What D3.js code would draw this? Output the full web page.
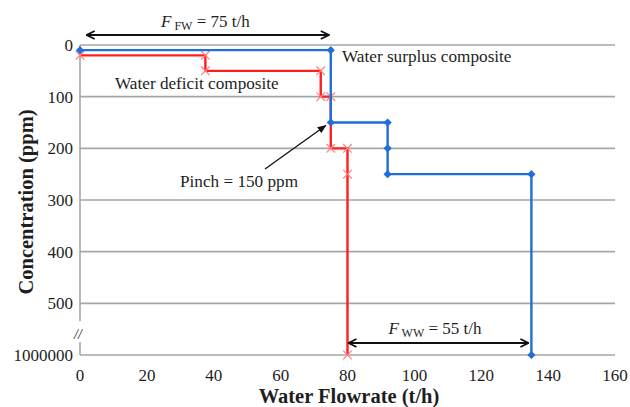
<!DOCTYPE html>
<html>
<head>
<meta charset="utf-8">
<script src="https://cdn.jsdelivr.net/npm/d3@7"></script>
<style>
  html, body { margin: 0; padding: 0; background: #fff; }
  svg { display: block; }
  text { font-family: "Liberation Serif", "Times New Roman", serif; fill: #1e1e1e; }
</style>
</head>
<body>
<svg id="chart" width="630" height="407"></svg>
<script>
// Water deficit composite (demand side): flowrate (t/h) vs concentration (ppm)
const deficitFlow = [0, 37.5, 37.5, 72, 72, 75, 75, 80, 80, 80];
const deficitConc = [20, 20, 50, 50, 100, 100, 200, 200, 250, 1000000];

// Water surplus composite (source side)
const surplusFlow = [0, 75, 75, 92, 92, 92, 135, 135];
const surplusConc = [10, 10, 150, 150, 200, 250, 250, 1000000];

// Axis ticks
const xTicks = [0, 20, 40, 60, 80, 100, 120, 140, 160];
const yTicks = [0, 100, 200, 300, 400, 500, 1000000];

// Annotations
const pinchFlow = 75, pinchConc = 150;
const freshWater = 75, wasteWater = 55;

const svg = d3.select("#chart");
const margin = { left: 80, right: 15, top: 45, bottom: 52 };
const W = 630, H = 407;

const x = d3.scaleLinear().domain([0, 160]).range([margin.left, W - margin.right]);
// the broken y axis puts 1000000 one step below 500
const yLin = d3.scaleLinear().domain([0, 600]).range([margin.top, H - margin.bottom]);
const y = v => yLin(v >= 1000000 ? 600 : v);

const gridColor = "#a6a6a6";
const red = "#ff1f1f";
const blue = "#1f6fd8";

// horizontal gridlines
svg.append("g").selectAll("line").data(yTicks).join("line")
  .attr("x1", x(0)).attr("x2", x(160))
  .attr("y1", d => y(d)).attr("y2", d => y(d))
  .attr("stroke", gridColor).attr("stroke-width", 1.6);

// y axis line with break
const yAxisX = x(0);
svg.append("line").attr("x1", yAxisX).attr("x2", yAxisX)
  .attr("y1", y(0)).attr("y2", y(500) + 18)
  .attr("stroke", gridColor).attr("stroke-width", 1.6);
svg.append("line").attr("x1", yAxisX).attr("x2", yAxisX)
  .attr("y1", y(1000000) - 13).attr("y2", y(1000000))
  .attr("stroke", gridColor).attr("stroke-width", 1.6);
svg.append("text").attr("x", yAxisX - 2).attr("y", y(500) + 36)
  .attr("text-anchor", "middle").attr("font-size", 14).attr("font-style", "italic")
  .attr("fill", "#444").text("//");

// tick labels
svg.append("g").selectAll("text").data(xTicks).join("text")
  .attr("x", d => x(d)).attr("y", 381)
  .attr("text-anchor", "middle").attr("font-size", 17).text(d => d);
svg.append("g").selectAll("text").data(yTicks).join("text")
  .attr("x", yAxisX - 7).attr("y", d => y(d) + 6)
  .attr("text-anchor", "end").attr("font-size", 17).text(d => d);

// axis titles
svg.append("text").attr("x", 349).attr("y", 403)
  .attr("text-anchor", "middle").attr("font-size", 20.5).attr("font-weight", "bold")
  .text("Water Flowrate (t/h)");
svg.append("text").attr("transform", "translate(33,202) rotate(-90)")
  .attr("text-anchor", "middle").attr("font-size", 20.5).attr("font-weight", "bold")
  .text("Concentration (ppm)");

const line = d3.line().x(d => x(d[0])).y(d => y(d[1]));
const deficit = d3.zip(deficitFlow, deficitConc);
const surplus = d3.zip(surplusFlow, surplusConc);

// deficit composite (red, cross markers)
svg.append("path").datum(deficit).attr("d", line)
  .attr("fill", "none").attr("stroke", red).attr("stroke-width", 2.4);
svg.append("g").selectAll("path").data(deficit).join("path")
  .attr("transform", d => `translate(${x(d[0])},${y(d[1])})`)
  .attr("d", d3.symbol(d3.symbolTimes, 50)())
  .attr("fill", "none").attr("stroke", "#ff8080").attr("stroke-width", 1.2);

// surplus composite (blue, diamond markers)
svg.append("path").datum(surplus).attr("d", line)
  .attr("fill", "none").attr("stroke", blue).attr("stroke-width", 2.4);
svg.append("g").selectAll("path").data(surplus).join("path")
  .attr("transform", d => `translate(${x(d[0])},${y(d[1])}) rotate(45)`)
  .attr("d", d3.symbol(d3.symbolSquare, 34)())
  .attr("fill", blue);

// arrow markers
const defs = svg.append("defs");
defs.append("marker").attr("id", "chev").attr("viewBox", "0 0 10 10")
  .attr("refX", 9).attr("refY", 5).attr("markerWidth", 10).attr("markerHeight", 10)
  .attr("markerUnits", "userSpaceOnUse").attr("orient", "auto-start-reverse")
  .append("path").attr("d", "M1,1 L9,5 L1,9").attr("fill", "none")
  .attr("stroke", "#111").attr("stroke-width", 1.8);
defs.append("marker").attr("id", "tri").attr("viewBox", "0 0 10 10")
  .attr("refX", 9).attr("refY", 5).attr("markerWidth", 9).attr("markerHeight", 9)
  .attr("markerUnits", "userSpaceOnUse").attr("orient", "auto")
  .append("path").attr("d", "M0,1 L10,5 L0,9 Z").attr("fill", "#111");

// fresh-water target arrow
svg.append("line").attr("x1", x(2)).attr("x2", x(freshWater) - 2)
  .attr("y1", 35).attr("y2", 35)
  .attr("stroke", "#111").attr("stroke-width", 2)
  .attr("marker-start", "url(#chev)").attr("marker-end", "url(#chev)");
const fw = svg.append("text").attr("x", x(freshWater / 2)).attr("y", 27)
  .attr("text-anchor", "middle").attr("font-size", 17);
fw.append("tspan").attr("font-style", "italic").text("F");
fw.append("tspan").attr("font-size", 12).attr("dy", 3).text(" FW");
fw.append("tspan").attr("dy", -3).text(` = ${freshWater} t/h`);

// wastewater target arrow
svg.append("line").attr("x1", x(135 - wasteWater) + 1).attr("x2", x(135) - 3)
  .attr("y1", 343).attr("y2", 343)
  .attr("stroke", "#111").attr("stroke-width", 2)
  .attr("marker-start", "url(#chev)").attr("marker-end", "url(#chev)");
const ww = svg.append("text").attr("x", 435).attr("y", 334)
  .attr("text-anchor", "middle").attr("font-size", 17);
ww.append("tspan").attr("font-style", "italic").text("F");
ww.append("tspan").attr("font-size", 12).attr("dy", 3).text(" WW");
ww.append("tspan").attr("dy", -3).text(` = ${wasteWater} t/h`);

// composite labels
svg.append("text").attr("x", 342).attr("y", 62).attr("font-size", 17.2)
  .text("Water surplus composite");
svg.append("text").attr("x", 115).attr("y", 89).attr("font-size", 17.2)
  .text("Water deficit composite");

// pinch annotation
svg.append("line").attr("x1", 265).attr("y1", 169)
  .attr("x2", x(pinchFlow) - 5).attr("y2", y(pinchConc) + 3)
  .attr("stroke", "#111").attr("stroke-width", 1.3)
  .attr("marker-end", "url(#tri)");
svg.append("text").attr("x", 239).attr("y", 187).attr("text-anchor", "middle")
  .attr("font-size", 17.2).text(`Pinch = ${pinchConc} ppm`);
</script>
</body>
</html>
